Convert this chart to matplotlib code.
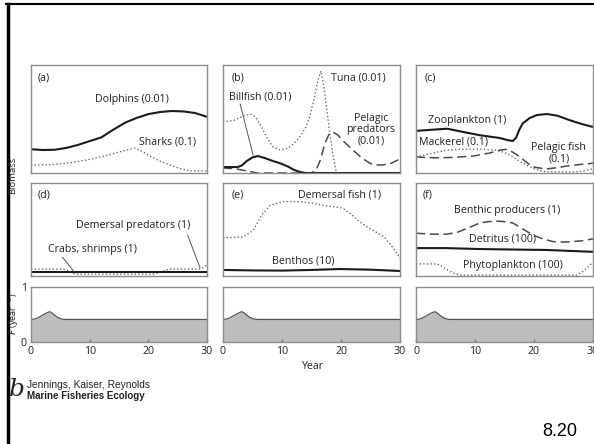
import matplotlib
matplotlib.use("Agg")
import matplotlib.pyplot as plt
from matplotlib.lines import Line2D

plt.rcParams['font.family'] = ['Open Sans', 'DejaVu Sans']

# ---------------- data ----------------
# (a)
dolph_x = [0, 2, 4, 6, 8, 10, 12, 14, 16, 18, 20, 22, 24, 26, 28, 30]
dolph_y = [0.22, 0.213, 0.215, 0.232, 0.26, 0.295, 0.33, 0.40, 0.465, 0.51, 0.545, 0.565, 0.574, 0.57, 0.555, 0.52]
shark_x = [0, 3, 6, 9, 12, 15, 17.7, 19, 20.3, 22, 23.7, 25.5, 27, 30]
shark_y = [0.074, 0.076, 0.09, 0.115, 0.15, 0.194, 0.23, 0.20, 0.157, 0.11, 0.074, 0.04, 0.02, 0.02]
# (b)
tuna_x = [0, 2, 3.5, 4.6, 5.5, 6.5, 7.5, 8.5, 9.7, 11, 12, 13, 14, 14.7, 15.5, 16.1, 16.6, 17.1, 17.6, 18.1, 18.6, 19.1, 19.5, 30]
tuna_y = [0.47, 0.49, 0.53, 0.546, 0.52, 0.43, 0.32, 0.24, 0.213, 0.23, 0.27, 0.333, 0.42, 0.52, 0.70, 0.86, 0.944, 0.80, 0.58, 0.37, 0.18, 0.03, 0.0, 0.0]
bill_x = [0, 2.5, 3.2, 4, 5, 5.9, 7, 8.5, 9.7, 11, 12, 13, 14, 30]
bill_y = [0.055, 0.055, 0.07, 0.11, 0.145, 0.157, 0.14, 0.11, 0.09, 0.06, 0.03, 0.01, 0.0, 0.0]
ppred_x = [0, 2, 4, 5.8, 15, 15.8, 16.5, 17.3, 18, 18.6, 19.5, 20.5, 22, 23.5, 24.9, 26, 27, 28.5, 30]
ppred_y = [0.046, 0.04, 0.02, 0.0, 0.0, 0.03, 0.12, 0.28, 0.36, 0.38, 0.35, 0.29, 0.213, 0.14, 0.09, 0.075, 0.074, 0.09, 0.13]
# (c)
zoo_x = [0, 2.5, 5.3, 8, 10.8, 14.2, 15.5, 16.4, 17, 17.5, 18.1, 19.3, 20.5, 22.2, 24, 26, 28, 30]
zoo_y = [0.39, 0.40, 0.41, 0.38, 0.35, 0.324, 0.305, 0.296, 0.33, 0.40, 0.46, 0.51, 0.537, 0.546, 0.53, 0.49, 0.455, 0.426]
mack_x = [0, 2.5, 5.3, 8, 10.8, 13.7, 15, 16.4, 17.8, 19.3, 20.5, 22, 27, 28.5, 30]
mack_y = [0.148, 0.18, 0.213, 0.22, 0.222, 0.21, 0.19, 0.15, 0.10, 0.056, 0.03, 0.01, 0.01, 0.02, 0.04]
pfish_x = [0, 3.6, 6.5, 9.7, 12.5, 14, 15.4, 16.5, 17.6, 18.7, 19.8, 22, 24, 25.6, 28, 30]
pfish_y = [0.148, 0.14, 0.145, 0.157, 0.185, 0.21, 0.22, 0.19, 0.15, 0.10, 0.056, 0.037, 0.05, 0.065, 0.08, 0.09]
# (d)
crab_x = [0, 30]
crab_y = [0.043, 0.043]
dpred_x = [0, 5.5, 6.5, 7.5, 21, 22.5, 23.5, 29, 30]
dpred_y = [0.075, 0.075, 0.05, 0.02, 0.02, 0.05, 0.075, 0.075, 0.12]
# (e)
dfish_x = [0, 3.4, 5.1, 6.6, 8, 10.2, 13, 15, 17, 20.3, 21.8, 23.2, 24.6, 26, 27.3, 28.5, 29.3, 30]
dfish_y = [0.41, 0.42, 0.49, 0.66, 0.76, 0.80, 0.80, 0.785, 0.76, 0.73, 0.66, 0.58, 0.52, 0.47, 0.42, 0.33, 0.26, 0.19]
benth_x = [0, 5, 10, 15, 19.8, 25, 30]
benth_y = [0.065, 0.06, 0.058, 0.065, 0.075, 0.068, 0.054]
# (f)
bprod_x = [0, 2.5, 5.3, 7, 8.6, 10.8, 12.3, 13.7, 15, 16.4, 18, 19.8, 21.5, 23.2, 25, 26.6, 28.3, 30]
bprod_y = [0.46, 0.45, 0.45, 0.47, 0.51, 0.57, 0.585, 0.59, 0.585, 0.57, 0.51, 0.44, 0.40, 0.37, 0.365, 0.37, 0.38, 0.40]
detr_x = [0, 5, 10.8, 16, 22, 26, 30]
detr_y = [0.30, 0.30, 0.29, 0.285, 0.28, 0.27, 0.26]
phyto_x = [0, 3.6, 4.5, 5.3, 6.4, 7.5, 27.3, 28.3, 29.2, 30]
phyto_y = [0.13, 0.13, 0.10, 0.065, 0.03, 0.01, 0.01, 0.05, 0.10, 0.15]
# fishing mortality F (same in all three columns)
f_x = [0, 0.5, 1, 1.5, 2, 2.5, 3, 3.2, 3.5, 4, 4.5, 5, 5.5, 6, 30]
f_y = [0.41, 0.415, 0.43, 0.46, 0.49, 0.52, 0.545, 0.55, 0.535, 0.49, 0.45, 0.425, 0.412, 0.41, 0.41]

xtick_vals = [0, 10, 20, 30]
xtick_labels = ['0', '10', '20', '30']

# ---------------- styles ----------------
W, H = 594, 444
fig = plt.figure(figsize=(W / 100, H / 100), dpi=100)
TXT = '#222222'
SPINE = '#8c8c8c'
solid = dict(color='#1c1c1c', lw=1.5, ls='-', solid_capstyle='butt')
dotted = dict(color='#6a6a6a', lw=1.0, ls=(0, (1, 1.6)))
dashed = dict(color='#4a4a4a', lw=1.1, ls=(0, (6, 3)))
FS = 7.7


def px_axes(l, t, r, b):
    return fig.add_axes([l / W, 1 - b / H, (r - l) / W, (b - t) / H])


def style(ax):
    ax.set_xlim(0, 30)
    ax.set_ylim(0, 1)
    for s in ax.spines.values():
        s.set_color(SPINE)
        s.set_linewidth(1.0)
    ax.set_xticks([])
    ax.set_yticks([])


cols = [(31, 207), (223, 400), (416, 593)]
rows = [(65, 173), (183, 276)]
axs = {}
names = ['a', 'b', 'c', 'd', 'e', 'f']
k = 0
for (t, b) in rows:
    for (l, r) in cols:
        ax = px_axes(l, t, r, b)
        style(ax)
        axs[names[k]] = ax
        k += 1


def lab(ax, x, y, s, ha='center'):
    ax.text(x, y, s, fontsize=FS, color=TXT, ha=ha, va='center', linespacing=1.0)


def leader(ax, x0, y0, x1, y1):
    ax.plot([x0, x1], [y0, y1], color='#555555', lw=0.7)


# (a)
ax = axs['a']
ax.plot(dolph_x, dolph_y, **solid)
ax.plot(shark_x, shark_y, **dotted)
lab(ax, 1.2, 0.88, '(a)', 'left')
lab(ax, 17.2, 0.676, 'Dolphins (0.01)')
lab(ax, 23.2, 0.287, 'Sharks (0.1)')

# (b)
ax = axs['b']
ax.plot(tuna_x, tuna_y, **dotted)
ax.plot(ppred_x, ppred_y, **dashed)
ax.plot(bill_x, bill_y, **solid)
lab(ax, 1.5, 0.88, '(b)', 'left')
lab(ax, 6.3, 0.70, 'Billfish (0.01)')
leader(ax, 2.9, 0.64, 5.1, 0.167)
lab(ax, 23.0, 0.88, 'Tuna (0.01)')
lab(ax, 25.1, 0.40, 'Pelagic\npredators\n(0.01)')

# (c)
ax = axs['c']
ax.plot(mack_x, mack_y, **dotted)
ax.plot(pfish_x, pfish_y, **dashed)
ax.plot(zoo_x, zoo_y, **solid)
lab(ax, 1.4, 0.88, '(c)', 'left')
lab(ax, 8.6, 0.49, 'Zooplankton (1)')
lab(ax, 6.4, 0.287, 'Mackerel (0.1)')
lab(ax, 24.2, 0.185, 'Pelagic fish\n(0.1)')

# (d)
ax = axs['d']
ax.plot(dpred_x, dpred_y, **dotted)
ax.plot(crab_x, crab_y, **solid)
lab(ax, 1.2, 0.87, '(d)', 'left')
lab(ax, 17.4, 0.54, 'Demersal predators (1)')
leader(ax, 26.7, 0.44, 28.8, 0.09)
lab(ax, 10.4, 0.28, 'Crabs, shrimps (1)')
leader(ax, 5.4, 0.20, 7.3, 0.05)

# (e)
ax = axs['e']
ax.plot(dfish_x, dfish_y, **dotted)
ax.plot(benth_x, benth_y, **solid)
lab(ax, 1.5, 0.87, '(e)', 'left')
lab(ax, 19.8, 0.87, 'Demersal fish (1)')
lab(ax, 13.6, 0.16, 'Benthos (10)')

# (f)
ax = axs['f']
ax.plot(bprod_x, bprod_y, **dashed)
ax.plot(phyto_x, phyto_y, **dotted)
ax.plot(detr_x, detr_y, **solid)
lab(ax, 1.2, 0.87, '(f)', 'left')
lab(ax, 15.4, 0.70, 'Benthic producers (1)')
lab(ax, 14.6, 0.40, 'Detritus (100)')
lab(ax, 16.5, 0.11, 'Phytoplankton (100)')

# F row
for i, (l, r) in enumerate(cols):
    ax = px_axes(l, 287, r, 342)
    style(ax)
    ax.fill_between(f_x, 0, f_y, color='#bdbdbd', lw=0)
    ax.plot(f_x, f_y, color='#555555', lw=0.9)
    ax.set_xticks(xtick_vals)
    ax.set_xticklabels(xtick_labels, fontsize=7.7, color=TXT)
    ax.tick_params(axis='x', direction='in', length=2.5, width=1.0, color='#777777', pad=3)
    if i == 0:
        ax.set_yticks([0, 1])
        ax.set_yticklabels(['0', '1'], fontsize=7.7, color=TXT)
        ax.tick_params(axis='y', length=0, pad=3)

# axis titles
fig.text(13 / W, 1 - 175 / H, 'Biomass', rotation=90, fontsize=6.8, color=TXT,
         ha='center', va='center')
fig.text(13.5 / W, 1 - 314 / H, r'$F$ (year$^{-1}$)', rotation=90, fontsize=6.5, color=TXT,
         ha='center', va='center')
fig.text(312 / W, 1 - 366 / H, 'Year', fontsize=7.7, color=TXT, ha='center', va='center')

# attribution
fig.text(9 / W, 1 - 389 / H, 'b', fontsize=18, family='DejaVu Serif', style='italic',
         color='#222222', ha='left', va='center')
fig.text(27 / W, 1 - 385 / H, 'Jennings, Kaiser, Reynolds', fontsize=7.3,
         family='Liberation Sans', color='#222222', ha='left', va='center')
fig.text(27 / W, 1 - 396 / H, 'Marine Fisheries Ecology', fontsize=7.0, weight='bold',
         family='Liberation Sans', color='#222222', ha='left', va='center')
fig.text(560 / W, 1 - 431 / H, '8.20', fontsize=13, family='Liberation Sans',
         color='black', ha='center', va='center')

# slide frame lines
fig.add_artist(Line2D([7.5 / W, 7.5 / W], [0, 1 - 4 / H], color='black', lw=2.5,
                      transform=fig.transFigure))
fig.add_artist(Line2D([6 / W, 1], [1 - 4.5 / H, 1 - 4.5 / H], color='black', lw=1.5,
                      transform=fig.transFigure))

fig.savefig('out.png', dpi=100, facecolor='white')
